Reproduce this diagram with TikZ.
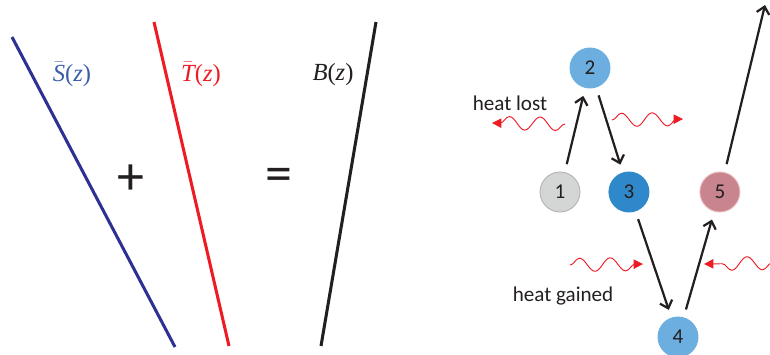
\documentclass[tikz,border=0pt]{standalone}
\usepackage{fontspec}
\setmainfont{Carlito}
\newfontfamily\tms{Liberation Serif}
\usetikzlibrary{positioning,arrows.meta,decorations.pathmorphing}
\definecolor{Navy}{HTML}{2E3192}
\definecolor{SBlue}{HTML}{3C5DAA}
\definecolor{Red}{HTML}{ED1C24}
\definecolor{LBlue}{HTML}{6BAEDF}
\definecolor{DBlue}{HTML}{2F88C9}
\definecolor{LGray}{HTML}{D4D5D5}
\definecolor{Gray}{HTML}{B4B5B5}
\definecolor{Rose}{HTML}{C9858F}
\definecolor{Pink}{HTML}{E9B9C0}
\definecolor{Ink}{HTML}{231F20}
\newcommand{\prof}[1]{{\tms$\bar{\textit{#1}}$(\textit{z})}}

\begin{document}
\begin{tikzpicture}[x=0.03cm,y=-0.03cm,
    prof/.style={line width=2.6pt},
    lbl/.style={font=\fontsize{18}{20}\selectfont},
    zlbl/.style={font=\fontsize{21}{23}\selectfont},
    op/.style={font=\fontsize{46}{46}\selectfont,text=Ink},
    state/.style={circle,minimum size=1.2cm,inner sep=0pt,line width=0.8pt,
                  font=\fontsize{18}{20}\selectfont,text=Ink},
    arr/.style={-{Straight Barb[length=6pt,width=11pt,line width=1.9pt]},
                line width=1.9pt,color=Ink,shorten <=7pt,shorten >=7pt},
    heat/.style={-{Triangle[length=8pt,width=8pt]},color=Red,line width=0.8pt,
                 decorate,decoration={snake,amplitude=0.2cm,segment length=0.92cm,
                 post length=0.1cm}}
  ]
    \useasboundingbox (0,0) rectangle (770,354);
    % left: the three profiles
    \draw[prof,Navy] (12,37) -- (175,347);
    \draw[prof,Red] (154,22) -- (229,346);
    \draw[prof,Ink] (376,22) -- (321,346);
    \node[zlbl,text=SBlue] (s) at (72,74) {\prof{S}};
    \node[zlbl,text=Red] (t) at (201,74) {\prof{T}};
    \node[zlbl,text=Ink] (b) at (333,75) {{\tms\textit{B}(\textit{z})}};
    \node[op] (plus) at (131,180) {+};
    \node[op] (eq) at (279,180) {=};

    % right: parcel path
    \node[state,fill=LGray,draw=Gray] (n1) at (560,192) {1};
    \node[state,fill=DBlue,draw=DBlue,right=0.84cm of n1] (n3) {3};
    \node[state,fill=Rose,draw=Pink,right=1.5cm of n3] (n5) {5};
    \node[state,fill=LBlue,draw=LBlue] (n2) at (590,68) {2};
    \node[state,fill=LBlue,draw=LBlue] (n4) at (678,337) {4};
    \coordinate (top) at (765,5);
    \draw[arr] (n1) -- (n2);
    \draw[arr] (n2) -- (n3);
    \draw[arr] (n3) -- (n4);
    \draw[arr] (n4) -- (n5);
    \draw[arr,shorten >=0pt] (n5) -- (top);

    \node[lbl,text=Ink] (lost) at (510,103) {heat lost};
    \node[lbl,text=Ink] (gain) at (563,296) {heat gained};
    \coordinate (l1) at (565,124);
    \coordinate (l2) at (492,123);
    \coordinate (r1) at (612,120);
    \coordinate (r2) at (683,119);
    \coordinate (g1) at (570,265);
    \coordinate (g2) at (643,264);
    \coordinate (h1) at (772,263);
    \coordinate (h2) at (704,264);
    \draw[heat] (l1) -- (l2);
    \draw[heat] (r1) -- (r2);
    \draw[heat] (g1) -- (g2);
    \draw[heat] (h1) -- (h2);
\end{tikzpicture}
\end{document}
